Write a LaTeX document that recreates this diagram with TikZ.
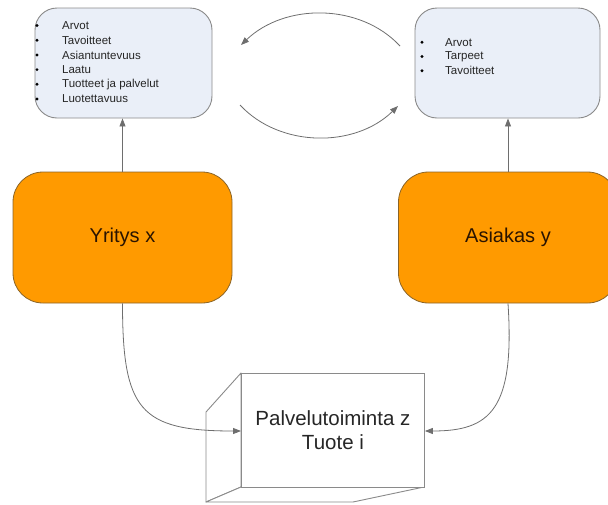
\documentclass[tikz,border=0pt]{standalone}
\usepackage{fontspec}
\setmainfont{Liberation Sans}
\usetikzlibrary{arrows.meta}
\definecolor{linegray}{HTML}{6E6E6E}
\definecolor{boxgray}{HTML}{8A8A8A}
\definecolor{paleblue}{HTML}{EAEFF8}
\definecolor{orangefill}{HTML}{FF9A00}
\definecolor{orangeedge}{HTML}{8A6428}
\definecolor{darktext}{HTML}{2A1400}
\begin{document}
\begin{tikzpicture}[x=1pt,y=-1pt,
  infobox/.style={draw=boxgray, line width=0.9pt, fill=paleblue, rounded corners=22pt,
    minimum height=110pt, inner sep=0pt},
  actor/.style={draw=orangeedge, line width=0.8pt, fill=orangefill, rounded corners=30pt,
    minimum width=219pt, minimum height=131pt, inner sep=0pt,
    font=\fontsize{20}{24}\selectfont, text=darktext},
  item/.style={anchor=west, font=\fontsize{11.5}{13}\selectfont, text=black!85, inner sep=0pt},
  dot/.style={circle, fill=black, inner sep=0pt, minimum size=3.2pt},
  flow/.style={draw=linegray, line width=0.8pt, -{Triangle[length=8pt,width=6pt]}},
  edge3d/.style={draw=boxgray, line width=0.9pt, fill=white, line join=round}]
\useasboundingbox (0,0) rectangle (608,504);
\clip (0,0) rectangle (608,504);

% value boxes
\node[infobox, minimum width=177pt] (firmvals) at (123.5,63) {};
\node[infobox, minimum width=185pt] (custvals) at (507.5,63) {};

% bullet lists
\foreach \t [count=\i] in {Arvot,Tavoitteet,Asiantuntevuus,Laatu,Tuotteet ja palvelut,Luotettavuus}{
  \node[dot] (fd\i) at (37,{25.5+14.7*(\i-1)}) {};
  \node[item] (ft\i) at (62,{25.5+14.7*(\i-1)}) {\t};
}
\foreach \t [count=\i] in {Arvot,Tarpeet,Tavoitteet}{
  \node[dot] (cd\i) at (422,{42.3+14.2*(\i-1)}) {};
  \node[item] (ct\i) at (445,{42.3+14.2*(\i-1)}) {\t};
}

% actors
\node[actor] (firm) at (122.5,237.5) {Yritys x};
\node[actor] (cust) at (508,237.5) {Asiakas y};

% service / product block
\coordinate (ftl) at (241,373);
\coordinate (fbl) at (241,487);
\coordinate (fbr) at (424,487);
\coordinate (btl) at (206,412);
\coordinate (bbl) at (206,502);
\coordinate (bbm) at (353,502);
\draw[edge3d] (ftl) -- (btl) -- (bbl) -- (fbl) -- cycle;
\draw[edge3d] (bbl) -- (bbm) -- (fbr) -- (fbl) -- cycle;
\node[draw=boxgray, line width=0.9pt, fill=white, minimum width=183pt, minimum height=114pt,
  inner sep=0pt, anchor=north west, align=center,
  font=\fontsize{20.5}{24}\selectfont, text=black!85] (service) at (ftl)
  {Palvelutoiminta z\\Tuote i};

% connectors
\draw[flow] (firm.north) -- (firm.north |- firmvals.south);
\draw[flow] (cust.north) -- (cust.north |- custvals.south);

\coordinate (arcTR) at (400,46);
\coordinate (arcTL) at (241,45);
\coordinate (arcBL) at (240,105);
\coordinate (arcBR) at (398,106);
\draw[flow] (arcTR) .. controls (360,3) and (285,3) .. (arcTL);
\draw[flow] (arcBL) .. controls (280,148) and (355,148) .. (arcBR);

\draw[flow] (firm.south) .. controls (122.5,410) and (140,431) .. (service.west |- 0,431);
\draw[flow] (cust.south) .. controls (515,410) and (490,431) .. (service.east |- 0,431);
\end{tikzpicture}
\end{document}
